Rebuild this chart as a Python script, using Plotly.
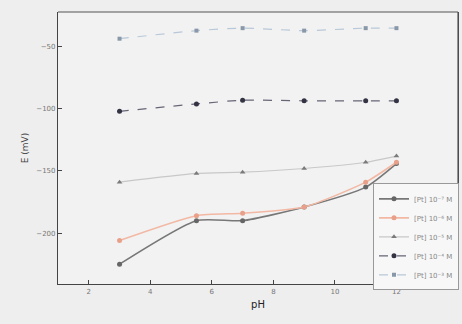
import plotly.graph_objects as go

ph = [3, 5.5, 7, 9, 11, 12]
s1 = [-225, -190, -190, -179, -163, -144]
s2 = [-206, -186, -184, -179, -159, -143]
s3 = [-159, -152, -151, -148, -143, -138]
s4 = [-102, -96, -93, -93.5, -93.5, -93.5]
s5 = [-43.5, -37, -35, -37, -35, -35]
names = ["[Pt] 10⁻⁷ M", "[Pt] 10⁻⁶ M", "[Pt] 10⁻⁵ M", "[Pt] 10⁻⁴ M", "[Pt] 10⁻³ M"]
x_ticks = [2, 4, 6, 8, 10, 12, 14]
y_ticks = [-200, -150, -100, -50]

series = [s1, s2, s3, s4, s5]
styles = [
    dict(color="#666666", line="#777777", symbol="circle", size=5, dash="solid", width=1.6),
    dict(color="#e8a08a", line="#f2b8a4", symbol="circle", size=5, dash="solid", width=1.6),
    dict(color="#7a7a7a", line="#c8c8c8", symbol="triangle-up", size=5, dash="solid", width=1.2),
    dict(color="#333344", line="#666677", symbol="circle", size=5, dash="dash", width=1.2),
    dict(color="#8898a8", line="#b8c8d8", symbol="square", size=4, dash="dash", width=1.2),
]

fig = go.Figure()
for vals, name, st in zip(series, names, styles):
    fig.add_trace(go.Scatter(
        x=ph, y=vals, name=name, mode="lines+markers",
        line=dict(color=st["line"], width=st["width"], dash=st["dash"], shape="spline", smoothing=0.6),
        marker=dict(color=st["color"], symbol=st["symbol"], size=st["size"]),
    ))

fig.update_layout(
    width=462, height=324,
    margin=dict(l=58, r=4, t=12, b=40, autoexpand=False),
    paper_bgcolor="#eeeeee",
    plot_bgcolor="#f2f2f2",
    font=dict(family="DejaVu Sans", size=7, color="#777777"),
    showlegend=True,
    legend=dict(
        x=0.7875, y=0.37, xanchor="left", yanchor="top",
        bgcolor="#f7f7f7", bordercolor="#999999", borderwidth=1,
        font=dict(size=7, color="#888888"), tracegroupgap=0,
        itemwidth=30,
    ),
)
fig.update_xaxes(
    range=[1, 14], tickvals=x_ticks, ticks="inside", ticklen=4,
    showline=True, linecolor="#444444", linewidth=1.2, mirror=False,
    showgrid=False, zeroline=False, automargin=False,
    title=dict(text="pH", font=dict(size=10, color="#222222"), standoff=6),
)
fig.update_yaxes(
    range=[-241, -22], tickvals=y_ticks, ticks="inside", ticklen=4,
    showline=True, linecolor="#444444", linewidth=1.2, mirror=True,
    showgrid=False, zeroline=False, automargin=False,
    title=dict(text="E (mV)", font=dict(size=9, color="#444444"), standoff=6),
)
fig.add_shape(type="line", xref="paper", yref="paper", x0=0, x1=1, y0=1, y1=1,
              line=dict(color="#555555", width=1.2))
fig.add_shape(type="line", xref="paper", yref="paper", x0=1, x1=1, y0=0, y1=1,
              line=dict(color="#555555", width=1.2))
fig.write_html(
    "out.html",
    config={"displayModeBar": False},
    post_script="document.body.style.margin='0';document.body.style.background='#eeeeee';document.body.style.overflow='hidden';",
)
